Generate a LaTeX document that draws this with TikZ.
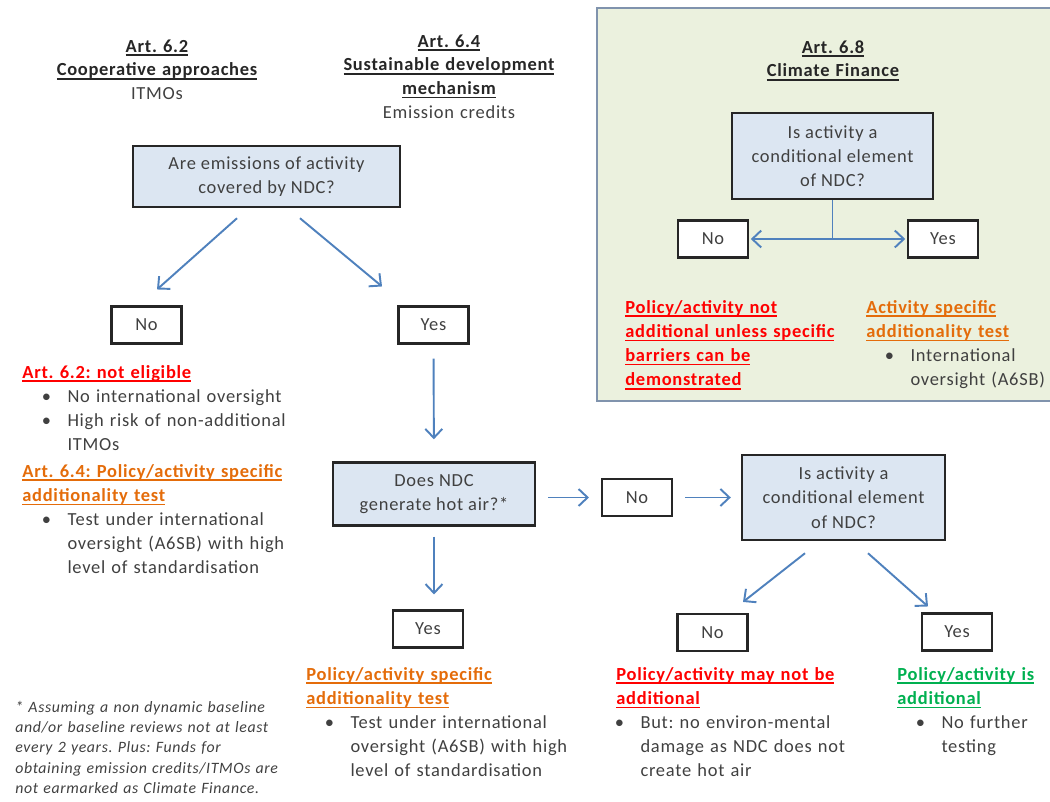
\documentclass[tikz,border=0pt]{standalone}
\usepackage{fontspec}
\setmainfont{Carlito}[LetterSpace=4]
\usepackage{tikz}
\usetikzlibrary{arrows.meta}
\frenchspacing
\definecolor{askfill}{HTML}{DCE6F2}
\definecolor{panelfill}{HTML}{EBF1DE}
\definecolor{panelline}{HTML}{8093AD}
\definecolor{flowblue}{HTML}{4F81BD}
\definecolor{notred}{HTML}{FF0000}
\definecolor{testorange}{HTML}{E46C0A}
\definecolor{okgreen}{HTML}{00B050}
\definecolor{inkgray}{HTML}{404040}
\newcommand*{\bodysize}{\fontsize{10.5}{13.8}\selectfont}
\newsavebox{\ulnbox}
\newcommand*{\uln}[1]{%
  \leavevmode\sbox{\ulnbox}{#1}%
  \rlap{\rule[-2.2pt]{\wd\ulnbox}{0.9pt}}\usebox{\ulnbox}}
\newcommand*{\verdict}[4][7cm]{%
  \node [ verdict, #3, text width = #1 ] at (#2) {#4};
}
\newcommand*{\points}[2][0.84cm]{%
  \begin{list}{\textbullet}{\topsep=0pt\itemsep=0pt\parsep=0pt
    \parskip=0pt\partopsep=0pt\labelwidth=4pt\leftmargin=#1
    \itemindent=0pt\labelsep=0.33cm}%
    #2
  \end{list}}
\newcommand*{\lines}[1]{%
  \begin{tabular}[t]{@{}l@{}}#1\end{tabular}}

\begin{document}
\begin{tikzpicture}[x=0.02cm, y=-0.02cm, font=\bodysize,
    ask/.style    = {draw=black!85, line width=1.4pt, fill=askfill,
      text=inkgray, align=center, inner sep=0pt},
    answer/.style = {draw=black!85, line width=1.2pt, fill=white,
      text=inkgray, minimum width=1.4cm, minimum height=0.74cm,
      inner sep=0pt},
    flow/.style   = {draw=flowblue, line width=1.1pt,
      -{Straight Barb[length=1.8mm,width=3.4mm]}},
    head/.style   = {text width=6cm, align=center, anchor=base,
      inner sep=0pt, text=black!85,
      font=\fontsize{10.5}{13.5}\selectfont\bfseries},
    verdict/.style = {align=left, anchor=base west, inner sep=0pt,
      text=inkgray},
  ]
  \useasboundingbox (0,0) rectangle (1050,801);
  % Art. 6.8 panel
  \draw[panelline, fill=panelfill, line width=1.4pt] (597,8) rectangle (1080,401);

  \node[head] (art62) at (157,52) {\uln{Art. 6.2}\\
    \uln{Cooperative approaches}\\{\mdseries\color{inkgray}ITMOs}};
  \node[head] (art64) at (449,47) {\uln{Art. 6.4}\\
    \uln{Sustainable development}\\\uln{mechanism}\\
    {\mdseries\color{inkgray}Emission credits}};
  \node[head] (art68) at (833,53) {\uln{Art. 6.8}\\\uln{Climate Finance}};

  % questions
  \node[ask, minimum width=5.34cm, minimum height=1.22cm] (covered)
    at (266.5,176.5) {Are emissions of activity\\covered by NDC?};
  \node[ask, minimum width=4.04cm, minimum height=1.26cm] (hotair)
    at (434,494) {Does NDC\\generate hot air?*};
  \node[ask, minimum width=4.06cm, minimum height=1.7cm] (cond)
    at (843.5,497.5) {Is activity a\\conditional element\\of NDC?};
  \node[ask, minimum width=4.02cm, minimum height=1.72cm] (condcf)
    at (832.5,156) {Is activity a\\conditional element\\of NDC?};

  % answers
  \node[answer] (notcov) at (146.5,325) {No};
  \node[answer] (cov)    at (433.5,325) {Yes};
  \node[answer] (nohot)  at (637,497.5) {No};
  \node[answer] (hot)    at (428,629) {Yes};
  \node[answer] (nocond) at (712.5,632.5) {No};
  \node[answer] (iscond) at (957,632) {Yes};
  \node[answer] (nocf)   at (713,239) {No};
  \node[answer] (yescf)  at (943,239) {Yes};

  % connectors
  \draw[flow] ([xshift=-0.59cm,yshift=-0.2cm]covered.south)
    -- ([xshift=0.21cm,yshift=0.32cm]notcov.north);
  \draw[flow] ([xshift=0.67cm,yshift=-0.2cm]covered.south)
    -- ([xshift=-1.03cm,yshift=0.38cm]cov.north);
  \draw[flow, shorten <=0.28cm, shorten >=0.44cm] (cov) -- (hotair);
  \draw[flow, shorten <=0.24cm, shorten >=0.24cm]
    (hotair.east |- nohot.west) -- (nohot.west);
  \draw[flow, shorten <=0.24cm, shorten >=0.2cm] (nohot) -- (cond);
  \draw[flow, shorten <=0.2cm, shorten >=0.3cm]
    (hotair.south) -- (hotair.south |- hot.north);
  \draw[flow] ([xshift=-0.77cm,yshift=-0.24cm]cond.south)
    -- ([xshift=0.61cm,yshift=0.22cm]nocond.north);
  \draw[flow] ([xshift=0.49cm,yshift=-0.24cm]cond.south)
    -- ([xshift=-0.58cm,yshift=0.12cm]iscond.north);
  \draw[flow, shorten >=1pt] (condcf.south) |- (nocf.east);
  \draw[flow, shorten >=1pt] (condcf.south) |- (yescf.west);

  % outcomes
  \verdict{22,378}{name=noneligible}{%
    {\color{notred}\bfseries\uln{Art. 6.2: not eligible}}
    \points[0.86cm]{%
      \item No international oversight
      \item \lines{High risk of non-additional\\ITMOs}}}
  \verdict{22,477}{name=sdmtest}{%
    {\color{testorange}\bfseries\uln{Art. 6.4: Policy/activity specific}\\
      \uln{additionality test}}
    \points[0.86cm]{%
      \item \lines{Test under international\\oversight (A6SB) with high\\
        level of standardisation}}}
  \verdict{306,680}{name=hottest}{%
    {\color{testorange}\bfseries\uln{Policy/activity specific}\\
      \uln{additionality test}}
    \points{%
      \item \lines{Test under international\\oversight (A6SB) with high\\
        level of standardisation}}}
  \verdict{616,680}{name=mayadd}{%
    {\color{notred}\bfseries\uln{Policy/activity may not be}\\
      \uln{additional}}
    \points[0.44cm]{%
      \item \lines{But: no environ-mental\\damage as NDC does not\\
        create hot air}}}
  \verdict{897,680}{name=isadd}{%
    {\color{okgreen}\bfseries\uln{Policy/activity is}\\\uln{additional}}
    \points{%
      \item \lines{No further\\testing}}}
  \verdict{625,313}{name=cfnotadd}{%
    {\color{notred}\bfseries\uln{Policy/activity not}\\
      \uln{additional unless specific}\\\uln{barriers can be}\\
      \uln{demonstrated}}}
  \verdict{866,313}{name=cftest}{%
    {\color{testorange}\bfseries\uln{Activity specific}\\
      \uln{additionality test}}
    \points{%
      \item \lines{International\\oversight (A6SB)}}}

  % footnote
  \node[verdict, text width=7cm, font=\fontsize{9}{11.6}\selectfont\itshape]
    (footnote) at (15,712) {* Assuming a non dynamic baseline\\
    and/or baseline reviews not at least\\every 2 years. Plus: Funds for\\
    obtaining emission credits/ITMOs are\\not earmarked as Climate Finance.};
\end{tikzpicture}
\end{document}
